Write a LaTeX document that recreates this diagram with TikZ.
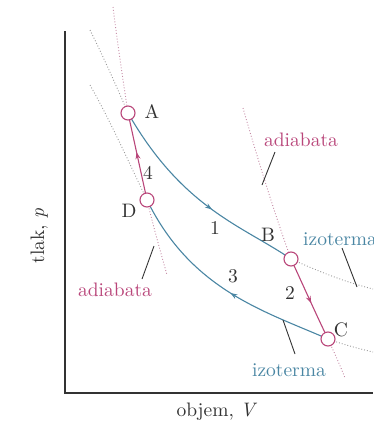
\documentclass[tikz,border=0pt]{standalone}
\usepackage{fontspec}
\setmainfont{lmroman10-regular.otf}[ItalicFont=lmroman10-italic.otf]
\usetikzlibrary{arrows.meta,decorations.markings}
\definecolor{teal1}{HTML}{4A86A3}
\definecolor{mag1}{HTML}{B9467A}
\definecolor{dotiso}{HTML}{9A9A9A}
\definecolor{dotadi}{HTML}{C48AA4}
\definecolor{axis1}{HTML}{333333}
\tikzset{
  pt/.style={circle,draw=mag1,fill=white,line width=1.1pt,minimum size=14pt,inner sep=0pt},
  iso/.style={draw=teal1,line width=1.1pt},
  adi/.style={draw=mag1,line width=1.1pt},
  isodot/.style={draw=dotiso,line width=0.9pt,dotted},
  adidot/.style={draw=dotadi,line width=0.9pt,dotted},
  leader/.style={draw=axis1,line width=0.9pt},
  lbl/.style={font=\fontsize{19.5}{23}\selectfont,text=axis1,inner sep=0pt},
  marrow/.style={postaction={decorate,decoration={markings,mark=at position #1 with {\arrow{Stealth[length=7pt,width=5pt]}}}}}
}
\begin{document}
\begin{tikzpicture}[x=1pt,y=-1pt]
\useasboundingbox (0,0) rectangle (373,429);
% axes
\coordinate (O) at (65,393);
\coordinate (Ytop) at (65,31);
\coordinate (Xend) at (373,393);
\draw[axis1,line width=1.1pt] (Ytop) -- (O) -- (Xend);
% points
\coordinate (Ac) at (128,113);
\coordinate (Bc) at (291,259);
\coordinate (Cc) at (328,339);
\coordinate (Dc) at (147,200);
% dotted extensions
\coordinate (iA) at (90,30);
\coordinate (aA) at (113,7);
\coordinate (iD) at (90,85);
\coordinate (aD) at (167,275);
\coordinate (aB) at (243,108);
\coordinate (iB) at (373,289);
\coordinate (iC) at (373,352);
\coordinate (aC) at (345,378);
\draw[isodot] (iA) .. controls (105,60) and (118,90) .. (Ac);
\draw[adidot] (aA) .. controls (117,40) and (123,80) .. (Ac);
\draw[isodot] (iD) .. controls (110,120) and (130,165) .. (Dc);
\draw[adidot] (Dc) .. controls (153,225) and (160,250) .. (aD);
\draw[adidot] (aB) .. controls (258,160) and (275,215) .. (Bc);
\draw[isodot] (Bc) .. controls (320,272) and (345,282) .. (iB);
\draw[isodot] (Cc) .. controls (345,345) and (360,349) .. (iC);
\draw[adidot] (Cc) .. controls (334,352) and (340,365) .. (aC);
% process curves
\draw[iso,marrow=0.58] (Ac) .. controls (183,209) and (243,226) .. (Bc);
\draw[iso,marrow=0.46] (Cc) .. controls (264,311) and (191,290) .. (Dc);
\draw[adi,marrow=0.55] (Dc) -- (Ac);
\draw[adi,marrow=0.55] (Bc) .. controls (303,285) and (315,312) .. (Cc);
% state circles
\node[pt] (A) at (Ac) {};
\node[pt] (B) at (Bc) {};
\node[pt] (C) at (Cc) {};
\node[pt] (D) at (Dc) {};
% state labels
\node[lbl,anchor=base] (lA) at (152,118) {A};
\node[lbl,anchor=base] (lD) at (129,217) {D};
\node[lbl,anchor=base] (lB) at (268,241) {B};
\node[lbl,anchor=base] (lC) at (341,336) {C};
% process numbers
\node[lbl,anchor=base] (n4) at (148,179) {4};
\node[lbl,anchor=base] (n1) at (215,234) {1};
\node[lbl,anchor=base] (n2) at (290,299) {2};
\node[lbl,anchor=base] (n3) at (233,282) {3};
% curve labels
\node[lbl,anchor=base,text=mag1] (adT) at (301,146) {adiabata};
\node[lbl,anchor=base,text=mag1] (adB) at (115,296) {adiabata};
\node[lbl,anchor=base west,text=teal1] (izR) at (303,245) {izoterma};
\node[lbl,anchor=base,text=teal1] (izB) at (289,376) {izoterma};
% leaders
\coordinate (l1a) at (275,152); \coordinate (l1b) at (262,185);
\coordinate (l2a) at (154,246); \coordinate (l2b) at (142,279);
\coordinate (l3a) at (342,248); \coordinate (l3b) at (357,287);
\coordinate (l4a) at (283,320); \coordinate (l4b) at (295,354);
\draw[leader] (l1a) -- (l1b);
\draw[leader] (l2a) -- (l2b);
\draw[leader] (l3a) -- (l3b);
\draw[leader] (l4a) -- (l4b);
% axis titles
\node[lbl,rotate=90,anchor=base] (py) at (44,236) {tlak, \textit{p}};
\node[lbl,anchor=base] (vx) at (217,416) {objem, \textit{V}};
\end{tikzpicture}
\end{document}
